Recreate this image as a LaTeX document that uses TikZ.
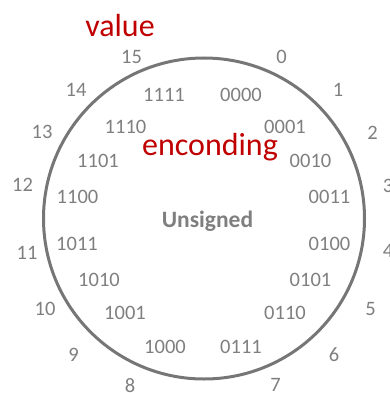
\documentclass[tikz,border=0pt]{standalone}
\usepackage{fontspec}
\setmainfont{Carlito}
\definecolor{txtgray}{HTML}{7F7F7F}
\definecolor{ringgray}{HTML}{767676}
\definecolor{darkred}{HTML}{C00000}
\begin{document}
\begin{tikzpicture}[x=1pt,y=-1pt,
  num/.style={text=txtgray,font=\fontsize{20.5}{24}\selectfont,anchor=base,inner sep=0pt},
  enc/.style={text=txtgray,font=\fontsize{20.5}{24}\selectfont,anchor=base,inner sep=0pt},
  title/.style={text=darkred,font=\fontsize{32}{38}\selectfont,anchor=base,inner sep=0pt}]
\useasboundingbox (0,0) rectangle (390,393);
\node[circle,draw=ringgray,line width=3pt,minimum size=321pt,inner sep=0pt] (ring) at (204,218.5) {};
% outer values
\node[num] (v0) at (281.5,64) {0};
\node[num] (v1) at (338,97) {1};
\node[num] (v2) at (372.5,139.5) {2};
\node[num] (v3) at (388,192.5) {3};
\node[num] (v4) at (388,257.5) {4};
\node[num] (v5) at (370.5,315) {5};
\node[num] (v6) at (334,361) {6};
\node[num] (v7) at (275.5,391.5) {7};
\node[num] (v8) at (130,392) {8};
\node[num] (v9) at (73.5,361) {9};
\node[num] (v10) at (45,315) {10};
\node[num] (v11) at (27,259) {11};
\node[num] (v12) at (22.5,191) {12};
\node[num] (v13) at (42,139) {13};
\node[num] (v14) at (76,97) {14};
\node[num] (v15) at (131.5,64) {15};
% encodings
\node[enc] (e0) at (241,102) {0000};
\node[enc] (e1) at (285,133.5) {0001};
\node[enc] (e2) at (310.5,167) {0010};
\node[enc] (e3) at (329.5,203.5) {0011};
\node[enc] (e4) at (329.5,250) {0100};
\node[enc] (e5) at (310.5,286.5) {0101};
\node[enc] (e6) at (285,319) {0110};
\node[enc] (e7) at (241,353) {0111};
\node[enc] (e8) at (165,353) {1000};
\node[enc] (e9) at (125,319) {1001};
\node[enc] (e10) at (99,286.5) {1010};
\node[enc] (e11) at (77,250) {1011};
\node[enc] (e12) at (77.5,203.5) {1100};
\node[enc] (e13) at (98,167) {1101};
\node[enc] (e14) at (125.5,133.5) {1110};
\node[enc] (e15) at (164,102) {1111};
% titles
\node[title] (value) at (120,37) {value};
\node[title] (encoding) at (210,155) {enconding};
\node[text=txtgray,font=\fontsize{23.5}{28}\selectfont\bfseries,anchor=base,inner sep=0pt] (unsigned) at (207.5,227.5) {Unsigned};
\end{tikzpicture}
\end{document}
